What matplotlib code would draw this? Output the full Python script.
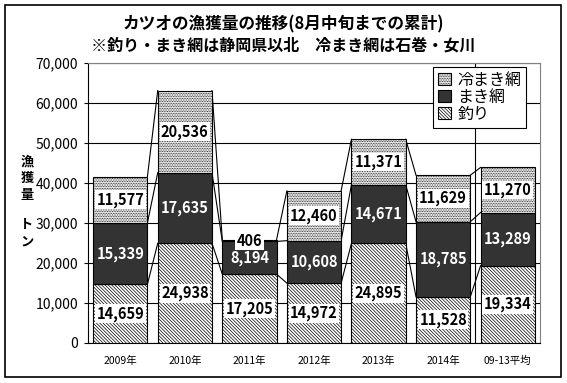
import matplotlib.pyplot as plt
from matplotlib.patches import Patch, Rectangle
from matplotlib.ticker import FuncFormatter

plt.rcParams['font.family'] = ['Noto Sans CJK JP', 'DejaVu Sans']
plt.rcParams['hatch.linewidth'] = 0.5

# Data (tons, cumulative to mid-August)
years = ['2009年', '2010年', '2011年', '2012年', '2013年', '2014年', '09-13平均']
tsuri = [14659, 24938, 17205, 14972, 24895, 11528, 19334]      # 釣り
makiami = [15339, 17635, 8194, 10608, 14671, 18785, 13289]     # まき網
rei_makiami = [11577, 20536, 406, 12460, 11371, 11629, 11270]  # 冷まき網

HATCH_LINE = '\\' * 10
HATCH_DOT = '.' * 10

fig = plt.figure(figsize=(5.67, 3.83), dpi=100)
fig.patches.append(Rectangle((5 / 567, 1 - 377 / 383), 556 / 567, 372 / 383,
                             transform=fig.transFigure, fill=False,
                             edgecolor='black', linewidth=1.2))

ax = fig.add_axes([88 / 567, 1 - 343 / 383, 452 / 567, 280 / 383])

x = list(range(len(years)))
w = 0.84
mid_bottom = tsuri
top_bottom = [a + b for a, b in zip(tsuri, makiami)]
totals = [a + b for a, b in zip(top_bottom, rei_makiami)]

ax.bar(x, tsuri, w, color='white', edgecolor='black', hatch=HATCH_LINE,
       linewidth=0.8, zorder=3)
ax.bar(x, makiami, w, bottom=mid_bottom, color='#333333', edgecolor='black',
       linewidth=0.8, zorder=3)
ax.bar(x, rei_makiami, w, bottom=top_bottom, color='white', edgecolor='black',
       hatch=HATCH_DOT, linewidth=0.8, zorder=3)

# series lines between neighbouring bars
for i in range(len(x) - 1):
    for lev in (tsuri, top_bottom, totals):
        ax.plot([x[i] + w / 2, x[i + 1] - w / 2], [lev[i], lev[i + 1]],
                color='black', linewidth=0.8, zorder=2)

# data labels
lbl_font = dict(fontsize=10.5, fontweight='bold', ha='center', va='center', zorder=5)
box = dict(boxstyle='square,pad=0.1', facecolor='white', edgecolor='none')
for i in x:
    ax.text(x[i], tsuri[i] / 2, f'{tsuri[i]:,}', bbox=box, color='black', **lbl_font)
    ax.text(x[i], mid_bottom[i] + makiami[i] / 2, f'{makiami[i]:,}', color='white', **lbl_font)
    ax.text(x[i], top_bottom[i] + rei_makiami[i] / 2, f'{rei_makiami[i]:,}', bbox=box,
            color='black', **lbl_font)

ax.axvline(5.5, color='black', linewidth=0.8, zorder=2)

ax.set_xlim(-0.5, len(x) - 0.5)
ax.set_ylim(0, 70000)
ax.set_yticks(range(0, 70001, 10000))
ax.yaxis.set_major_formatter(FuncFormatter(lambda v, p: f'{int(v):,}'))
ax.set_xticks(x)
ax.set_xticklabels(years, fontsize=7.5)
ax.tick_params(axis='x', length=0, pad=9)
ax.tick_params(axis='y', labelsize=10, length=3, pad=4)
ax.grid(axis='y', color='black', linewidth=0.8, zorder=0)
ax.set_axisbelow(True)
for s in ('top', 'right'):
    ax.spines[s].set_color('#808080')
for s in ('left', 'bottom'):
    ax.spines[s].set_color('black')

handles = [Patch(facecolor='white', edgecolor='black', hatch=HATCH_DOT, linewidth=0.8),
           Patch(facecolor='#333333', edgecolor='black', linewidth=0.8),
           Patch(facecolor='white', edgecolor='black', hatch=HATCH_LINE, linewidth=0.8)]
leg = ax.legend(handles, ['冷まき網', 'まき網', '釣り'], loc='upper right',
                bbox_to_anchor=(0.969, 0.986), borderaxespad=0, fontsize=11.5,
                fancybox=False, framealpha=1, edgecolor='black',
                handlelength=0.8, handleheight=0.8, handletextpad=0.4,
                labelspacing=0.0, borderpad=0.3)
leg.get_frame().set_linewidth(0.8)
leg.set_zorder(6)

fig.text(27 / 567, 1 - 178 / 383, '漁\n獲\n量', fontsize=9.5, fontweight='bold',
         ha='center', va='center', linespacing=1.25)
fig.text(27 / 567, 1 - 233 / 383, 'ト\nン', fontsize=9.5, fontweight='bold',
         ha='center', va='center', linespacing=1.25)

fig.text(283 / 567, 1 - 24 / 383, 'カツオの漁獲量の推移(8月中旬までの累計)',
         fontsize=12, fontweight='bold', ha='center', va='center')
fig.text(283 / 567, 1 - 46 / 383, '※釣り・まき網は静岡県以北　冷まき網は石巻・女川',
         fontsize=11.5, fontweight='bold', ha='center', va='center')

fig.savefig('out.png', dpi=100)
